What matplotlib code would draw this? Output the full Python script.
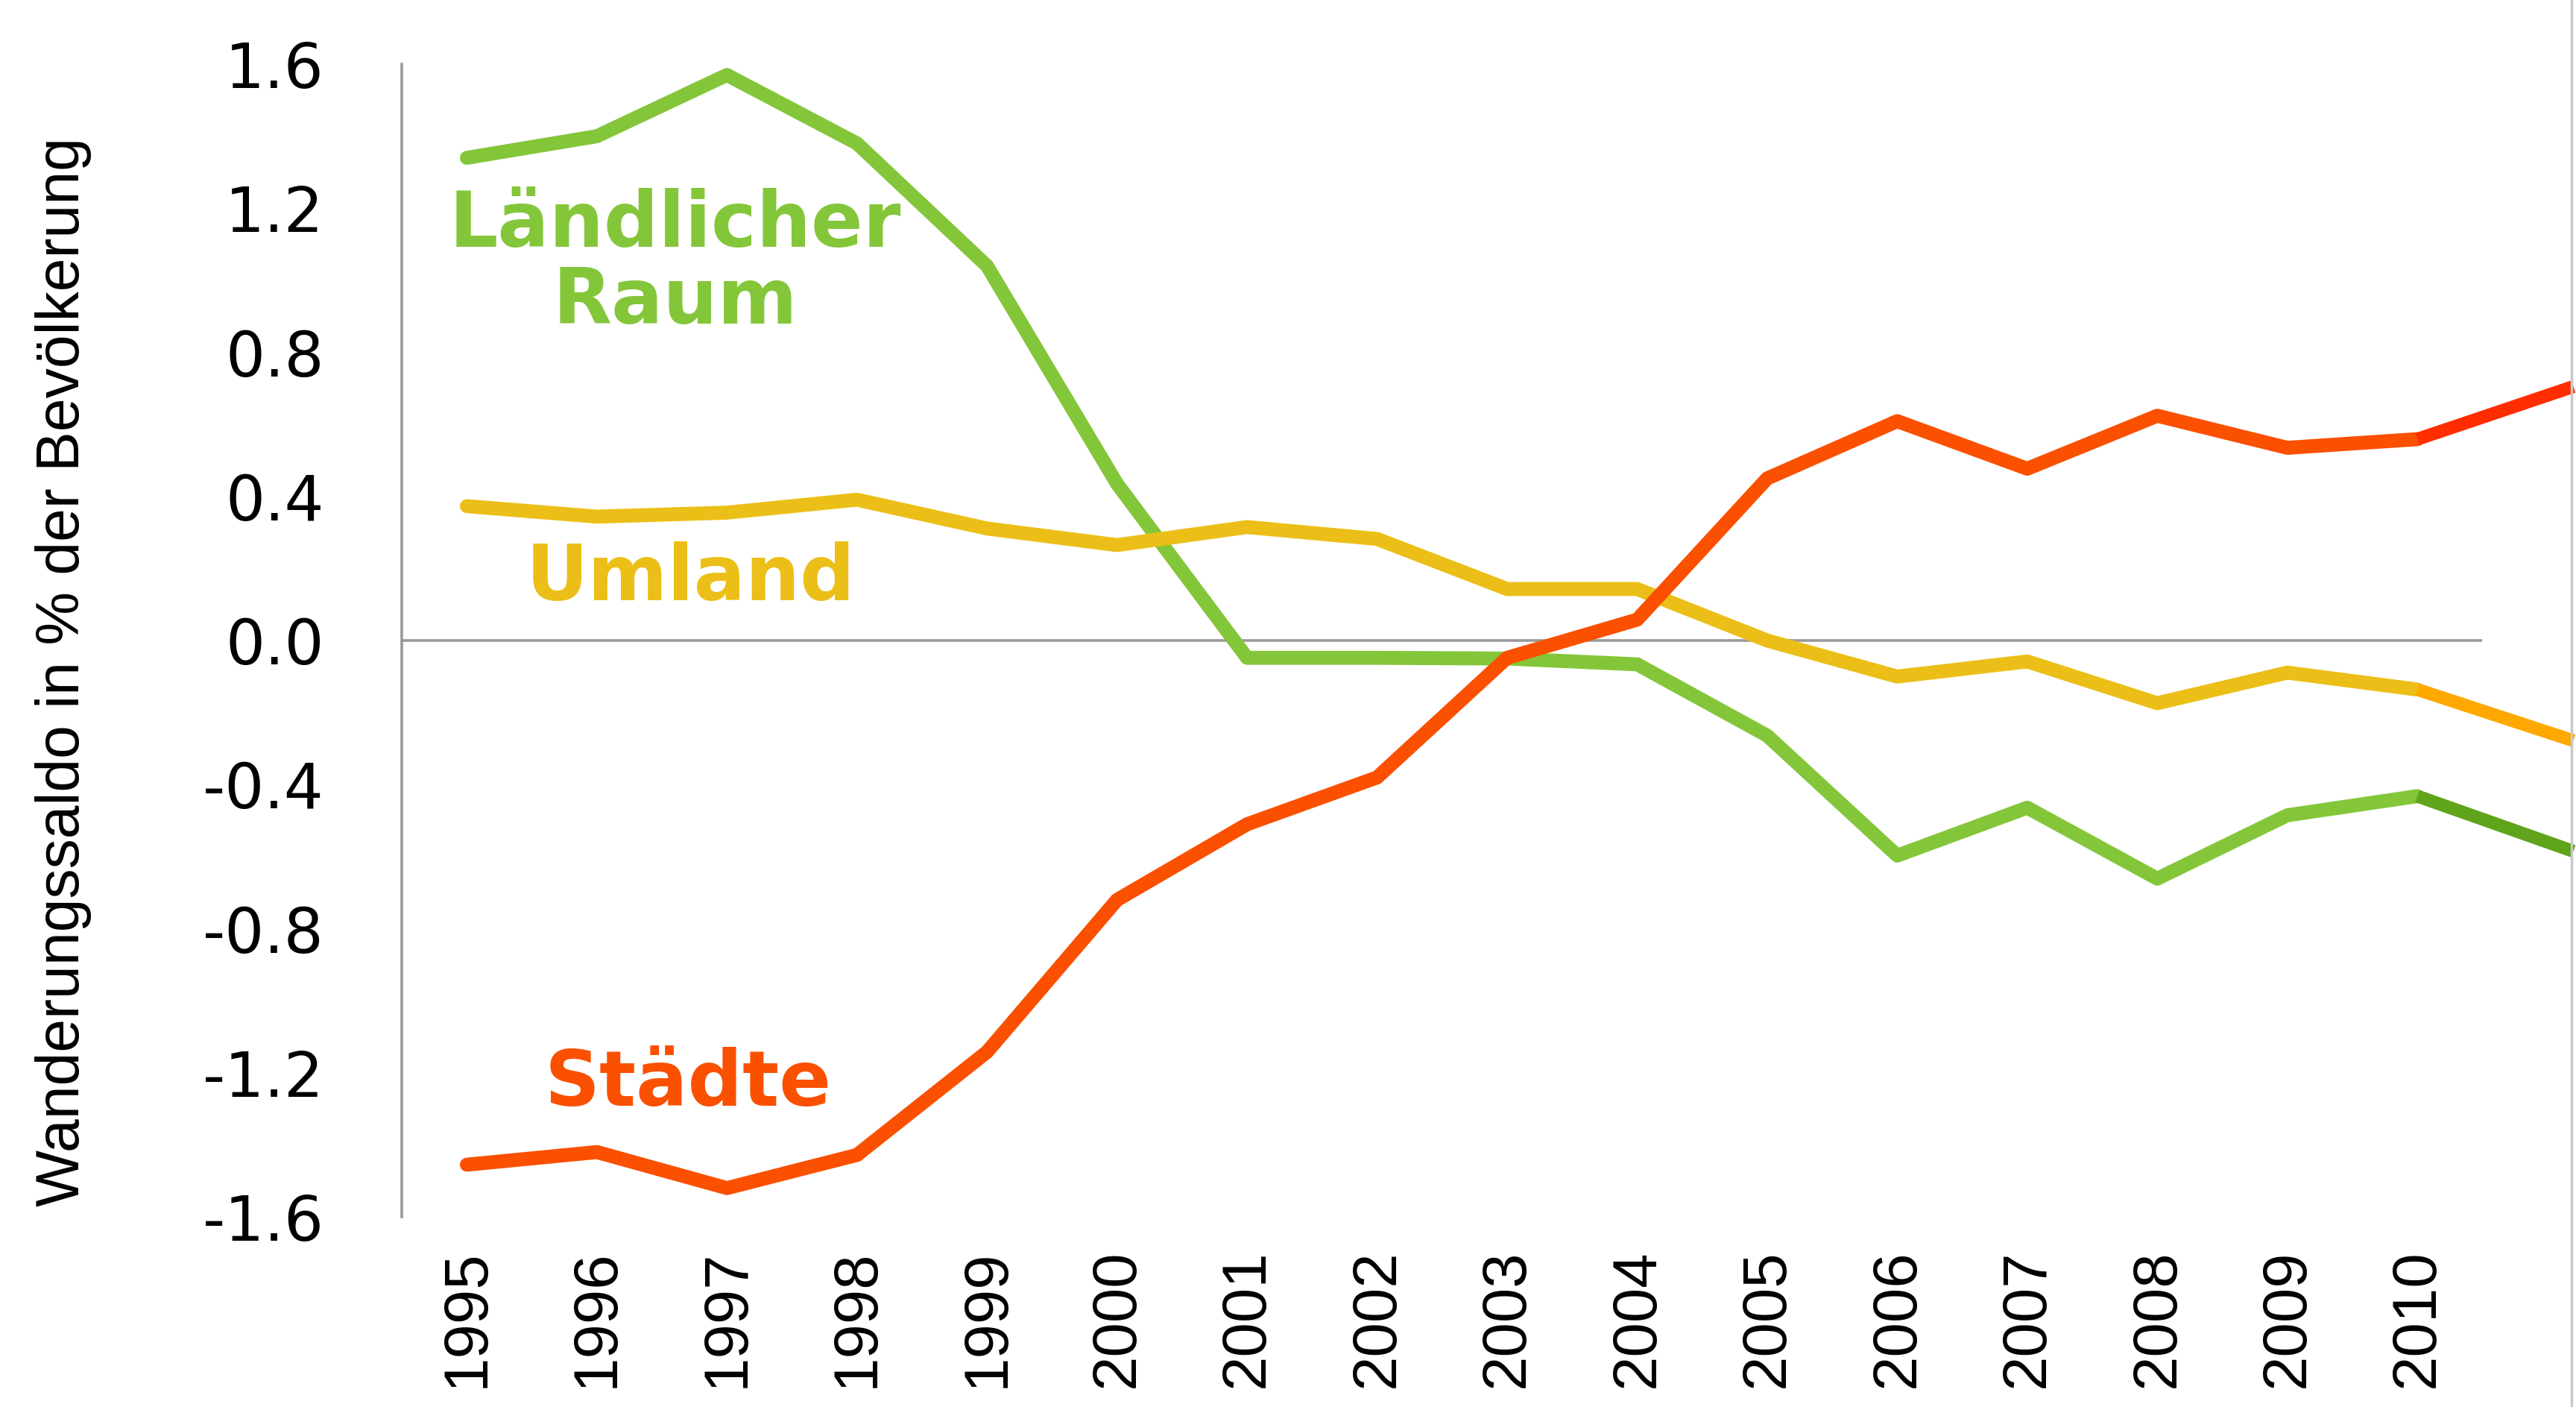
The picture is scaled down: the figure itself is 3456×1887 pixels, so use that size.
import numpy as np
import matplotlib.pyplot as plt
from matplotlib.lines import Line2D

# Daten
jahre = [1995, 1996, 1997, 1998, 1999, 2000, 2001, 2002,
         2003, 2004, 2005, 2006, 2007, 2008, 2009, 2010]
laendlich = [1.34, 1.40, 1.57, 1.38, 1.04, 0.435, -0.048, -0.048,
             -0.05, -0.066, -0.264, -0.597, -0.464, -0.661, -0.485, -0.432]
umland = [0.373, 0.344, 0.355, 0.391, 0.311, 0.265, 0.315, 0.282,
          0.143, 0.143, 0.0, -0.10, -0.058, -0.174, -0.089, -0.136]
staedte = [-1.455, -1.42, -1.52, -1.428, -1.142, -0.72, -0.51, -0.38,
           -0.048, 0.058, 0.45, 0.609, 0.477, 0.624, 0.535, 0.559]

# Trend nach 2010
trend_jahre = [2010, 2011.2]
trend_laendlich = [-0.432, -0.585]
trend_umland = [-0.136, -0.278]
trend_staedte = [0.559, 0.705]

y_ticks = [-1.6, -1.2, -0.8, -0.4, 0.0, 0.4, 0.8, 1.2, 1.6]

gruen = "#84C63A"
gelb = "#EBBF17"
orange = "#FA5000"

fig = plt.figure(figsize=(34.56, 18.87), dpi=100)
ax = fig.add_axes([0.156, 0.1351, 0.844, 0.8193])

ax.plot(jahre, laendlich, color=gruen, lw=13.5, solid_capstyle="round")
ax.plot(jahre, umland, color=gelb, lw=13.5, solid_capstyle="round")
ax.plot(jahre, staedte, color=orange, lw=13.5, solid_capstyle="round")

ax.plot(trend_jahre, trend_staedte, color="#FF2D00", lw=12.5, solid_capstyle="butt")
ax.plot(trend_jahre, trend_umland, color="#FFA800", lw=12.5, solid_capstyle="butt")
ax.plot(trend_jahre, trend_laendlich, color="#5FA41A", lw=12.5, solid_capstyle="butt")

# Nulllinie
ax.hlines(0, 1994.5, 2010.5, color="#999999", lw=2.6, zorder=1)

ax.set_xlim(1994.5, 2011.22)
ax.set_ylim(-1.6, 1.6)

for s in ["top", "right", "bottom"]:
    ax.spines[s].set_visible(False)
ax.spines["left"].set_color("#999999")
ax.spines["left"].set_linewidth(2.6)

ax.set_xticks(jahre)
ax.set_xticklabels([str(j) for j in jahre], rotation=90, fontsize=60,
                   family="Liberation Sans")
ax.set_yticks(y_ticks)
ax.set_yticklabels([f"{v:.1f}" for v in y_ticks],
                   fontsize=60, family="DejaVu Sans")
ax.tick_params(axis="x", length=0, pad=31)
ax.tick_params(axis="y", length=0, pad=75)

# Beschriftungen
ax.text(1996.6, 1.092, "Ländlicher", color=gruen, fontsize=74,
        fontweight="bold", ha="center", va="baseline")
ax.text(1996.6, 0.879, "Raum", color=gruen, fontsize=74,
        fontweight="bold", ha="center", va="baseline")
ax.text(1996.72, 0.112, "Umland", color=gelb, fontsize=74,
        fontweight="bold", ha="center", va="baseline")
ax.text(1996.7, -1.291, "Städte", color=orange, fontsize=74,
        fontweight="bold", ha="center", va="baseline")

fig.text(0.0246, 0.5225, "Wanderungssaldo in % der Bevölkerung", rotation=90,
         ha="center", va="center", fontsize=58, family="Liberation Sans")

# Rand rechts
fig.add_artist(Line2D([0.9983, 0.9983], [0, 1], transform=fig.transFigure,
                      color="#c8c8c8", lw=2.5))

fig.savefig("out.png", dpi=100)
